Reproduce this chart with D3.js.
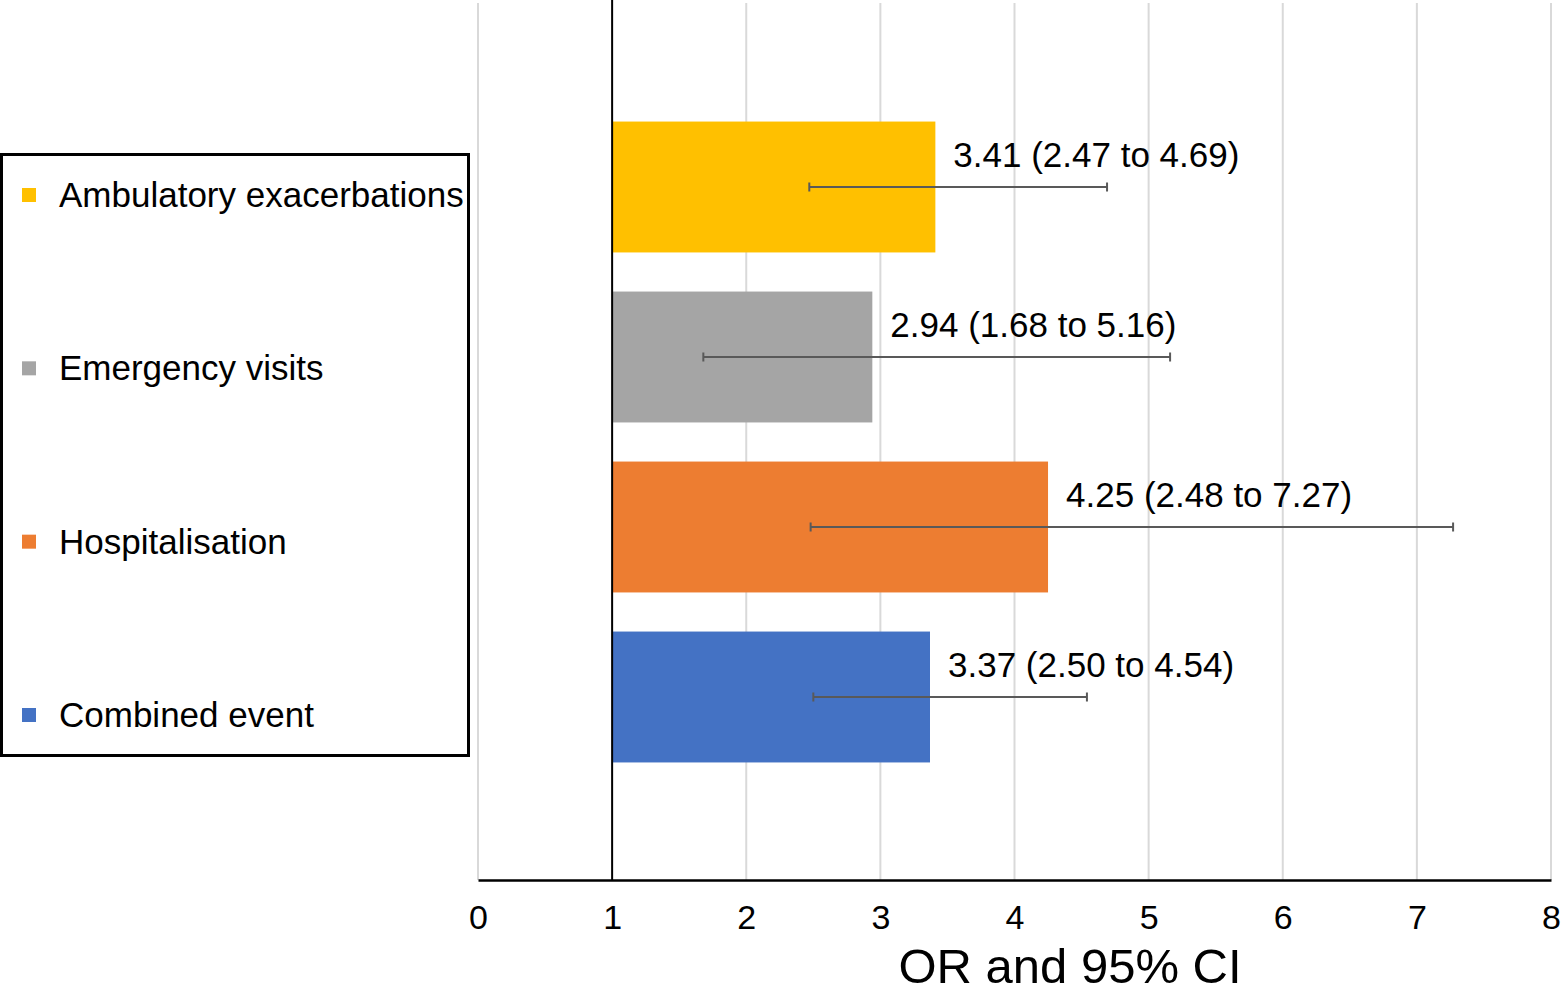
<!DOCTYPE html>
<html>
<head>
<meta charset="utf-8">
<script src="https://cdn.jsdelivr.net/npm/d3@7/dist/d3.min.js"></script>
<style>
  html, body { margin: 0; padding: 0; background: #fff; }
  svg text { font-family: "Liberation Sans", Arial, Helvetica, sans-serif; fill: #000; }
</style>
</head>
<body>
<svg id="chart" width="1565" height="994"></svg>
<script>
// ---- data ----
const categories = ["Ambulatory exacerbations", "Emergency visits", "Hospitalisation", "Combined event"];
const orValues   = [3.41, 2.94, 4.25, 3.37];
const ciLower    = [2.47, 1.68, 2.48, 2.50];
const ciUpper    = [4.69, 5.16, 7.27, 4.54];
const colors     = ["#FFC000", "#A5A5A5", "#ED7D31", "#4472C4"];
const xTicks     = [0, 1, 2, 3, 4, 5, 6, 7, 8];
const axisTitle  = "OR and 95% CI";

const svg = d3.select("#chart");

const x = d3.scaleLinear().domain([0, 8]).range([478, 1551]);
const y = d3.scaleBand().domain(categories).range([102, 782]).paddingInner(0.23).paddingOuter(0.115);
const plotTop = 3, plotBottom = 880;

// gridlines
svg.append("g").selectAll("line").data(xTicks.filter(d => d !== 1)).join("line")
  .attr("x1", d => x(d)).attr("x2", d => x(d))
  .attr("y1", plotTop).attr("y2", plotBottom)
  .attr("stroke", "#d9d9d9").attr("stroke-width", 2);

// bars (from 1 to value)
const data = categories.map((c, i) => ({c, v: orValues[i], lo: ciLower[i], hi: ciUpper[i], col: colors[i]}));
svg.append("g").selectAll("rect").data(data).join("rect")
  .attr("x", d => x(1)).attr("width", d => x(d.v) - x(1))
  .attr("y", d => y(d.c)).attr("height", y.bandwidth())
  .attr("fill", d => d.col);

// vertical reference line at 1
svg.append("line").attr("x1", x(1)).attr("x2", x(1)).attr("y1", 0).attr("y2", plotBottom)
  .attr("stroke", "#000").attr("stroke-width", 2);

// x axis
const xAxis = d3.axisBottom(x).tickValues(xTicks).tickSize(0).tickPadding(25).tickFormat(d3.format("d"));
const gx = svg.append("g").attr("transform", `translate(0,${plotBottom})`).call(xAxis);
gx.select(".domain").attr("stroke", "#000").attr("stroke-width", 2.5);
gx.selectAll("text").attr("font-size", 34).attr("font-family", "Liberation Sans, Arial, sans-serif").attr("fill", "#000");

// error bars
const eb = svg.append("g").selectAll("g").data(data).join("g")
  .attr("transform", d => `translate(0,${y(d.c) + y.bandwidth() / 2})`);
eb.append("line").attr("x1", d => x(d.lo)).attr("x2", d => x(d.hi)).attr("y1", 0).attr("y2", 0)
  .attr("stroke", "#595959").attr("stroke-width", 2);
eb.append("line").attr("x1", d => x(d.lo)).attr("x2", d => x(d.lo)).attr("y1", -4.5).attr("y2", 4.5)
  .attr("stroke", "#595959").attr("stroke-width", 2);
eb.append("line").attr("x1", d => x(d.hi)).attr("x2", d => x(d.hi)).attr("y1", -4.5).attr("y2", 4.5)
  .attr("stroke", "#595959").attr("stroke-width", 2);

// labels
const fmt = d3.format(".2f");
svg.append("g").selectAll("text").data(data).join("text")
  .attr("x", d => x(d.v) + 18)
  .attr("y", d => y(d.c) + y.bandwidth() / 2 - 20)
  .attr("font-size", 35)
  .text(d => `${fmt(d.v)} (${fmt(d.lo)} to ${fmt(d.hi)})`);

// axis title
svg.append("text").attr("x", 1070).attr("y", 983).attr("text-anchor", "middle")
  .attr("font-size", 49).text(axisTitle);

// legend
const lg = svg.append("g");
lg.append("rect").attr("x", 1.5).attr("y", 154.5).attr("width", 467).attr("height", 601)
  .attr("fill", "none").attr("stroke", "#000").attr("stroke-width", 3);
const legY = d3.scalePoint().domain(categories).range([195, 715]);
const li = lg.selectAll("g.item").data(data).join("g").attr("class", "item")
  .attr("transform", d => `translate(0,${legY(d.c)})`);
li.append("rect").attr("x", 22).attr("y", -7).attr("width", 14).attr("height", 14).attr("fill", d => d.col);
li.append("text").attr("x", 59).attr("y", 12).attr("font-size", 35).text(d => d.c);
</script>
</body>
</html>
